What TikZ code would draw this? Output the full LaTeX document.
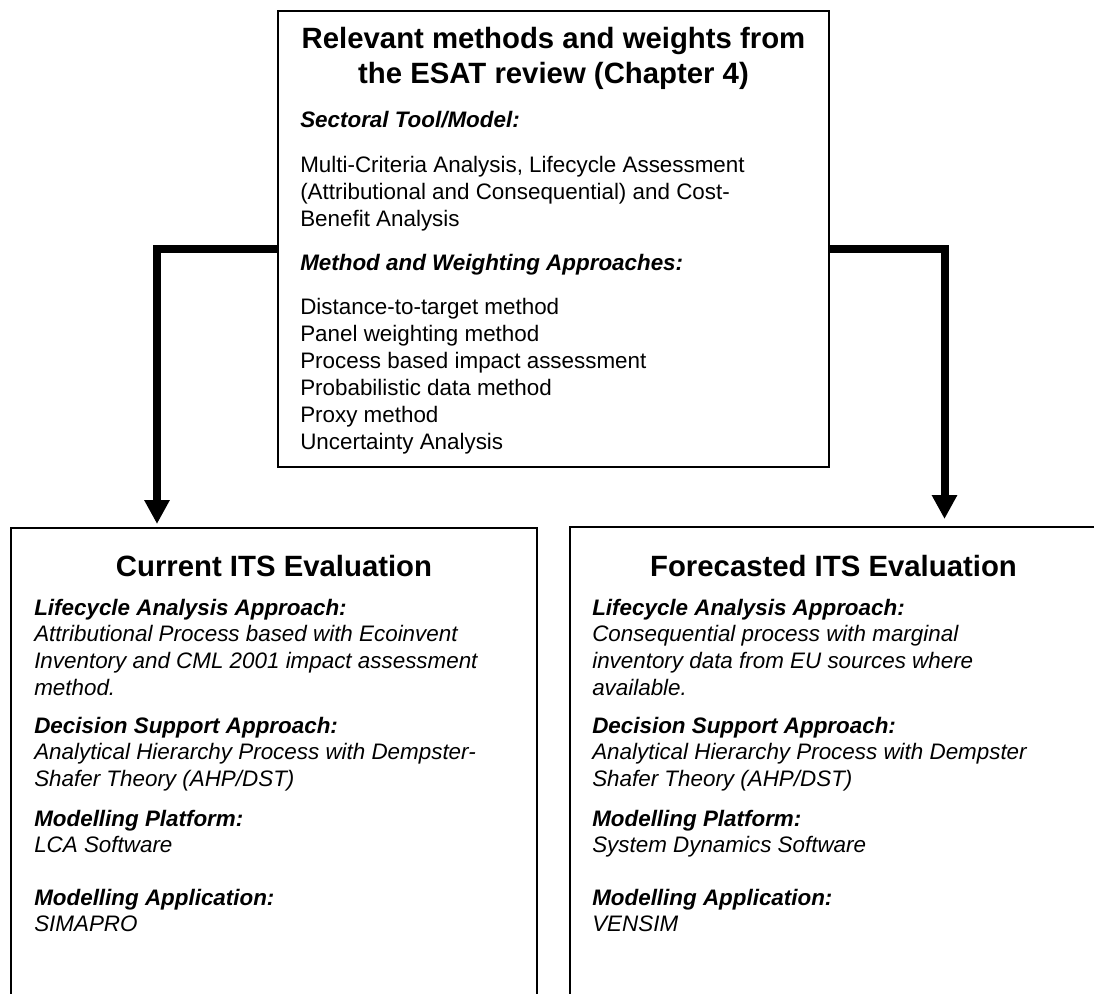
\documentclass[tikz,border=0pt]{standalone}
\usepackage{fontspec}
\setmainfont{Liberation Sans}
\usetikzlibrary{arrows.meta}
\begin{document}
\begin{tikzpicture}[x=0.75pt,y=-0.75pt,
  frame/.style={draw=black,line width=0.9pt,inner sep=0pt,outer sep=0pt},
  % multi-line texts are placed by the baseline of their last line
  txt/.style={anchor=base west,inner sep=0pt,align=left,font=\fontsize{16.8}{20.1}\selectfont},
  hd/.style={anchor=base,inner sep=0pt,align=center,font=\fontsize{22}{26.3}\selectfont\bfseries},
  conn/.style={line width=6pt,line join=miter,-{Triangle[width=18pt,length=18pt]}}]
\clip (0,0) rectangle (1094,994);

% source box with the review results
\node[frame,minimum width=413.25pt,minimum height=342pt] (src) at (553.5,239) {};
\node[hd] (srctitle) at (553.5,84) {Relevant methods and weights from\\the ESAT review (Chapter 4)};
\node[txt] (secthd) at (300,128) {\bfseries\itshape Sectoral Tool/Model:};
\node[txt] (sectbody) at (300,226.6) {Multi-Criteria Analysis, Lifecycle Assessment\\(Attributional and Consequential) and Cost-\\Benefit Analysis};
\node[txt] (methhd) at (300,271) {\bfseries\itshape Method and Weighting Approaches:};
\node[txt] (methbody) at (300,449) {Distance-to-target method\\Panel weighting method\\Process based impact assessment\\Probabilistic data method\\Proxy method\\Uncertainty Analysis};

% current evaluation box
\node[frame,minimum width=394.5pt,minimum height=361.5pt] (cur) at (274,769) {};
\node[hd] (curtitle) at (274,576) {Current ITS Evaluation};
\node[txt] (curlca) at (34,695.4) {\bfseries\itshape Lifecycle Analysis Approach:\\\itshape Attributional Process based with Ecoinvent\\\itshape Inventory and CML 2001 impact assessment\\\itshape method.};
\node[txt] (curdss) at (34,786.6) {\bfseries\itshape Decision Support Approach:\\\itshape Analytical Hierarchy Process with Dempster-\\\itshape Shafer Theory (AHP/DST)};
\node[txt] (curplat) at (34,852.8) {\bfseries\itshape Modelling Platform:\\\itshape LCA Software};
\node[txt] (curapp) at (34,931.8) {\bfseries\itshape Modelling Application:\\\itshape SIMAPRO};

% forecasted evaluation box
\node[frame,minimum width=395.25pt,minimum height=362.25pt] (fore) at (833.5,768.5) {};
\node[hd] (foretitle) at (833.5,576) {Forecasted ITS Evaluation};
\node[txt] (forelca) at (592,695.4) {\bfseries\itshape Lifecycle Analysis Approach:\\\itshape Consequential process with marginal\\\itshape inventory data from EU sources where\\\itshape available.};
\node[txt] (foredss) at (592,786.6) {\bfseries\itshape Decision Support Approach:\\\itshape Analytical Hierarchy Process with Dempster\\\itshape Shafer Theory (AHP/DST)};
\node[txt] (foreplat) at (592,852.8) {\bfseries\itshape Modelling Platform:\\\itshape System Dynamics Software};
\node[txt] (foreapp) at (592,931.8) {\bfseries\itshape Modelling Application:\\\itshape VENSIM};

% connectors
\coordinate (curtip) at (157,524);
\coordinate (foretip) at (944.5,519);
\draw[conn] ([yshift=-7.5pt]src.west) -| (curtip);
\draw[conn] ([yshift=-7.5pt]src.east) -| (foretip);
\end{tikzpicture}
\end{document}
